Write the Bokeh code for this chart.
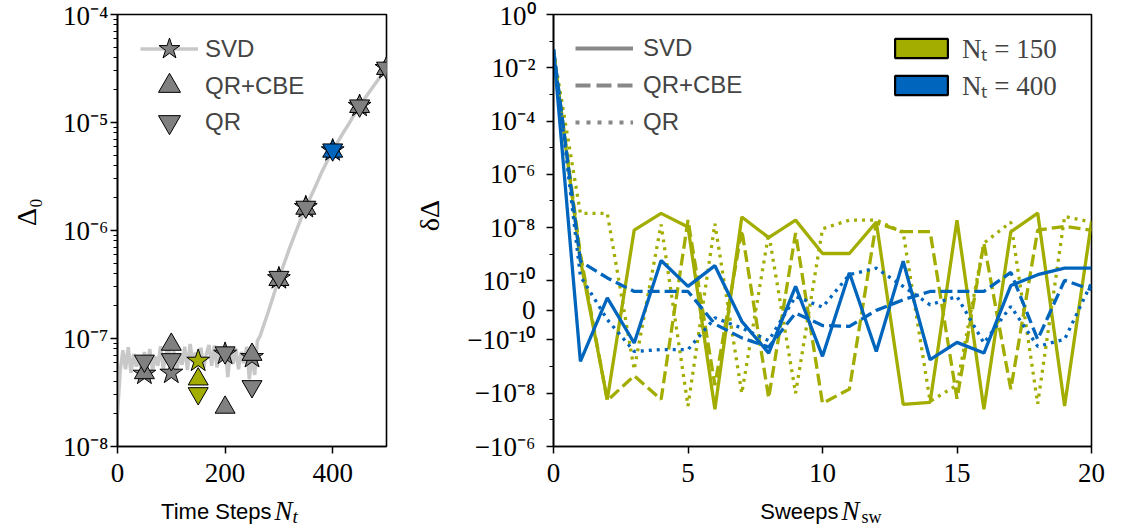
import numpy as np
from bokeh.plotting import figure
from bokeh.layouts import row, column
from bokeh.models import (FixedTicker, CustomJSTickFormatter, Legend, LegendItem,
                          Label, Range1d)
from bokeh.embed import file_html
from bokeh.resources import INLINE

# ---------------- data: left panel (Delta_0 vs time steps) ----------------
line_steps = list(range(0, 270, 5)) + list(range(270, 510, 10))
line_delta0 = [
    2.0e-8, 5.0e-8, 7.8e-8, 5.2e-8, 8.3e-8, 4.8e-8, 7.2e-8, 5.5e-8, 6.6e-8, 4.9e-8,
    7.5e-8, 5.3e-8, 8.0e-8, 5.0e-8, 6.8e-8, 5.6e-8, 8.5e-8, 5.2e-8, 7.0e-8, 8.8e-8,
    5.4e-8, 7.6e-8, 4.9e-8, 7.3e-8, 5.7e-8, 8.4e-8, 5.1e-8, 8.9e-8, 6.0e-8, 7.4e-8,
    5.5e-8, 8.2e-8, 5.3e-8, 7.1e-8, 8.7e-8, 5.6e-8, 8.6e-8, 5.4e-8, 7.7e-8, 6.2e-8,
    8.8e-8, 4.4e-8, 7.9e-8, 5.8e-8, 8.1e-8, 5.2e-8, 7.5e-8, 5.9e-8, 8.4e-8, 4.2e-8,
    7.0e-8, 4.6e-8, 9.5e-8, 1.05e-7,
    1.25e-7, 1.75e-7, 2.5e-7, 3.6e-7, 5.0e-7, 6.9e-7, 9.3e-7, 1.25e-6, 1.64e-6, 2.1e-6,
    2.7e-6, 3.5e-6, 4.4e-6, 5.5e-6, 6.7e-6, 8.1e-6, 9.7e-6, 1.18e-5, 1.42e-5, 1.68e-5,
    1.98e-5, 2.32e-5, 2.72e-5, 3.18e-5]
marker_steps = [50, 100, 150, 200, 250, 300, 350, 400, 450, 500]
svd_delta0 = [4.7e-8, 4.8e-8, 6.2e-8, 7.2e-8, 6.7e-8, 3.6e-7, 1.64e-6, 5.5e-6, 1.42e-5, 3.18e-5]
qrcbe_delta0 = [4.8e-8, 8.8e-8, 4.2e-8, 2.3e-8, 7.1e-8, 3.5e-7, 1.6e-6, 5.4e-6, 1.4e-5, 3.15e-5]
qr_delta0 = [6.2e-8, 6.4e-8, 3.1e-8, 7.4e-8, 3.6e-8, 3.7e-7, 1.65e-6, 5.6e-6, 1.43e-5, 3.2e-5]

# ---------------- data: right panel (delta Delta vs sweeps) ----------------
sweeps = list(range(21))
svd_150 = [4e-2, 6e-10, -1.7e-8, 8e-9, 3.4e-8, 1.05e-8, -4e-8, 2.5e-8, 4.2e-9, 1.9e-8, 1.06e-9,
           1.06e-9, 1.6e-8, -2.6e-8, -2.2e-8, 1.9e-8, -4e-8, 6.9e-9, 3.5e-8, -3e-8, 1.6e-8]
cbe_150 = [4e-2, 1e-9, -1.9e-8, -2.2e-9, -1.7e-8, 1.9e-8, -5e-9, 8e-9, -1.5e-8, 6.2e-9, -2.4e-8,
           -7e-9, 1.5e-8, 7e-9, 7e-9, -1.6e-8, 2.6e-9, -7e-9, 8e-9, 1.1e-8, 8e-9]
qr_150 = [4e-2, 3.4e-8, 3.4e-8, -1.3e-9, 1.3e-8, -3e-8, 1.4e-8, -1e-8, 6e-9, -1e-8, 9e-9,
          1.9e-8, 1.9e-8, 6.5e-9, -2e-8, -5e-9, 2.6e-9, 1.6e-8, -2.5e-8, 2.6e-8, 1.6e-8]
svd_400 = [5e-2, -6.4e-10, 4.2e-11, -1.3e-10, 5.8e-10, 8.1e-11, 3.7e-10, -3.7e-11, -3.1e-10, 8.1e-11,
           -4.1e-10, 2.0e-10, -2.7e-10, 5.4e-10, -5.5e-10, -1.23e-10, -3.1e-10, 8.4e-11, 1.7e-10,
           3.0e-10, 3.0e-10]
cbe_400 = [5e-2, 5.4e-10, 1.28e-10, 6.4e-11, 6.4e-11, 6.4e-11, -4.6e-11, -9.3e-11, -1.85e-10, -8.8e-12,
           -5.1e-11, -5.4e-11, 0.0, 3.6e-11, 6.4e-11, 6.4e-11, 6.4e-11, 2.07e-10, -9.8e-11, 1.04e-10,
           7e-11]
qr_400 = [5e-2, 1.5e-10, -3.1e-11, -2.7e-10, -2.3e-10, -2.3e-10, -2.5e-11, -6e-11, -1.05e-10, 4.7e-11,
          1.1e-11, 1.7e-10, 3.0e-10, 8.1e-11, 1.9e-11, 4.7e-11, -1.3e-10, 1.35e-11, -1.74e-10,
          -9.8e-11, 9.3e-11]

# ---------------- styles ----------------
OLIVE = "#a2ad00"
BLUE = "#0065bd"
GRAY = "#808080"
LIGHT = "#c8c8c8"
LEGRAY = "#888888"
SERIF = "Liberation Serif"
SANS = "Liberation Sans"

LINTHRESH = 1e-10
L = 1.0 / 0.9  # half width of the linear region, in decades


def symlog(vals):
    v = np.asarray(vals, dtype=float)
    a = np.abs(v)
    return np.where(a <= LINTHRESH, v / LINTHRESH * L,
                    np.sign(v) * (L + np.log10(np.maximum(a, 1e-300) / LINTHRESH)))


SUP = ('const sup = {"-": "\u207b", "0": "\u2070", "1": "\u00b9", "2": "\u00b2", "3": "\u00b3", '
       '"4": "\u2074", "5": "\u2075", "6": "\u2076", "7": "\u2077", "8": "\u2078", "9": "\u2079"};\n'
       'function sp(e) { let s = ""; for (const c of String(e)) s += sup[c]; return s; }\n')


def style(p):
    p.grid.visible = False
    p.outline_line_color = "black"
    p.outline_line_width = 1.6
    p.outline_line_alpha = 1.0
    p.background_fill_color = "white"
    p.border_fill_color = "white"
    for ax in p.axis:
        ax.axis_line_color = "black"
        ax.axis_line_width = 1.6
        ax.major_tick_line_color = "black"
        ax.minor_tick_line_color = "black"
        ax.major_tick_line_width = 1.5
        ax.minor_tick_line_width = 1.2
        ax.major_tick_out = 7
        ax.major_tick_in = 0
        ax.minor_tick_out = 4
        ax.minor_tick_in = 0
        ax.major_label_text_font = SERIF
        ax.major_label_text_font_size = "27px"
        ax.major_label_text_color = "black"
    for ax in p.xaxis:
        ax.major_label_standoff = 10


def text(p, x, y, s, font, size, fstyle="normal", angle=0.0, align="left"):
    p.add_layout(Label(x=x, y=y, text=s, text_font=font, text_font_size=size,
                       text_font_style=fstyle, angle=angle, text_align=align,
                       text_baseline="middle", text_color="black"))


def blank(x0, x1, y0, y1):
    """Empty strip (no axes) whose data coordinates are page pixels."""
    f = figure(width=x1 - x0, height=y1 - y0, x_range=Range1d(x0, x1), y_range=Range1d(y1, y0),
               x_axis_location=None, y_axis_location=None, output_backend="svg",
               toolbar_location=None, min_border=0)
    f.grid.visible = False
    f.outline_line_color = None
    f.background_fill_color = "white"
    f.border_fill_color = "white"
    return f


def one_item_legend(label, renderers, loc, **kw):
    return Legend(items=[LegendItem(label=label, renderers=renderers, index=0)], location=loc,
                  padding=0, margin=0, background_fill_alpha=0, border_line_alpha=0, **kw)


TOP, FH, BOT = 14, 432, 48
MAIN_H = TOP + FH + BOT

# ---------------- left panel ----------------
LW = 269
p1 = figure(frame_width=LW, frame_height=FH, x_range=Range1d(0, 500), y_range=Range1d(1e-8, 1e-4),
            y_axis_type="log", output_backend="svg", toolbar_location=None,
            min_border_left=73, min_border_right=10, min_border_top=TOP, min_border_bottom=BOT)
style(p1)
p1.xaxis.ticker = FixedTicker(ticks=[0, 200, 400], minor_ticks=[])
p1.yaxis.ticker = FixedTicker(ticks=[1e-8, 1e-7, 1e-6, 1e-5, 1e-4],
                              minor_ticks=[m * 10.0 ** e for e in range(-8, -4) for m in range(2, 10)])
p1.yaxis.formatter = CustomJSTickFormatter(code=SUP + 'return "10" + sp(Math.round(Math.log10(tick)));')
p1.yaxis.major_label_standoff = 2

mcolors = [OLIVE if n == 150 else BLUE if n == 400 else GRAY for n in marker_steps]
r_line = p1.line(line_steps, line_delta0, line_color=LIGHT, line_width=3.5)
r_star = p1.scatter(marker_steps, svd_delta0, marker="star", size=24, fill_color=mcolors,
                    line_color="black", line_width=1)
r_up = p1.scatter(marker_steps, qrcbe_delta0, marker="triangle", size=20, fill_color=mcolors,
                  line_color="black", line_width=1)
r_dn = p1.scatter(marker_steps, qr_delta0, marker="inverted_triangle", size=20, fill_color=mcolors,
                  line_color="black", line_width=1)

leg_kw = dict(glyph_width=58, glyph_height=55, label_height=30, label_standoff=7,
              label_text_font=SANS, label_text_font_size="24px")
for lab, rends, yb in [("SVD", [r_line, r_star], 370), ("QR+CBE", [r_up], 333),
                       ("QR", [r_dn], 297)]:
    p1.add_layout(one_item_legend(lab, rends, (23, yb), **leg_kw), "center")

# ---------------- right panel ----------------
RW = 538
ylo, yhi = -(L + 4), L + 10
p2 = figure(frame_width=RW, frame_height=FH, x_range=Range1d(0, 20), y_range=Range1d(ylo, yhi),
            output_backend="svg", toolbar_location=None,
            min_border_left=107, min_border_right=20, min_border_top=TOP, min_border_bottom=BOT)
style(p2)
p2.xaxis.ticker = FixedTicker(ticks=[0, 5, 10, 15, 20], minor_ticks=[])
major_vals = [1e0, 1e-2, 1e-4, 1e-6, 1e-8, 1e-10, 0.0, -1e-10, -1e-8, -1e-6]
minor_vals = [1e-1, 1e-3, 1e-5, 1e-7, 1e-9, -1e-9, -1e-7]
p2.yaxis.ticker = FixedTicker(ticks=list(symlog(major_vals)), minor_ticks=list(symlog(minor_vals)))
p2.yaxis.formatter = CustomJSTickFormatter(args=dict(L=L), code=SUP + """
if (Math.abs(tick) < 1e-6) return "0";
const e = Math.round(Math.abs(tick) - L) - 10;
return (tick < 0 ? "\u2212" : "") + "10" + sp(e);
""")
p2.yaxis.major_label_standoff = 11

for vals, dash in [(svd_150, "solid"), (cbe_150, "12 5"), (qr_150, "3 5")]:
    p2.line(sweeps, symlog(vals), line_color=OLIVE, line_width=3.3, line_dash=dash)
for vals, dash in [(svd_400, "solid"), (cbe_400, "12 5"), (qr_400, "3 5")]:
    p2.line(sweeps, symlog(vals), line_color=BLUE, line_width=3.3, line_dash=dash)

# legend-only renderers (a single NaN point draws nothing in the plot)
nan = [float("nan")]
d1 = p2.line(nan, nan, line_color=LEGRAY, line_width=4, line_dash="solid")
d2 = p2.line(nan, nan, line_color=LEGRAY, line_width=4, line_dash="15 6")
d3 = p2.line(nan, nan, line_color=LEGRAY, line_width=4, line_dash="4 7")
leg2 = Legend(items=[LegendItem(label="SVD", renderers=[d1], index=0),
                     LegendItem(label="QR+CBE", renderers=[d2], index=0),
                     LegendItem(label="QR", renderers=[d3], index=0)],
              location=(22, 309), glyph_width=58, glyph_height=30, label_height=30, spacing=7,
              padding=0, margin=0, label_standoff=10, label_text_font=SANS,
              label_text_font_size="24px", background_fill_alpha=0, border_line_alpha=0)
p2.add_layout(leg2, "center")

q1 = p2.quad(left=nan, right=nan, top=nan, bottom=nan, fill_color=OLIVE, line_color="black",
             line_width=2.2)
q2 = p2.quad(left=nan, right=nan, top=nan, bottom=nan, fill_color=BLUE, line_color="black",
             line_width=2.2)
leg3 = Legend(items=[LegendItem(label="N\u209c = 150", renderers=[q1], index=0),
                     LegendItem(label="N\u209c = 400", renderers=[q2], index=0)],
              location=(335, 343), glyph_width=66, glyph_height=24, label_height=24, spacing=0,
              padding=0, margin=0, label_standoff=8, label_text_font=SERIF,
              label_text_font_size="27px", background_fill_alpha=0, border_line_alpha=0)
p2.add_layout(leg3, "center")

# ---------------- axis titles (strips around the panels) ----------------
X_P1 = 44
X_GAP = X_P1 + 73 + LW + 10            # left edge of the strip between the panels
X_P2 = X_GAP + 50
TOTAL_W = X_P2 + 107 + RW + 20

ylab1 = blank(0, X_P1, 0, MAIN_H)
text(ylab1, 26, 226, "\u0394\u2080", SERIF, "28px", angle=np.pi / 2, align="center")
ylab2 = blank(X_GAP, X_P2, 0, MAIN_H)
text(ylab2, 429, 230, "\u03b4\u0394", SERIF, "28px", angle=np.pi / 2, align="center")

xlab = blank(0, TOTAL_W, MAIN_H, 532)
text(xlab, 271, 511, "Time Steps", SANS, "22px", align="right")
text(xlab, 274, 510, "N", SERIF, "27px", fstyle="italic")
text(xlab, 292, 516, "t", SERIF, "19px", fstyle="italic")
text(xlab, 838, 511, "Sweeps", SANS, "22px", align="right")
text(xlab, 841, 510, "N", SERIF, "27px", fstyle="italic")
text(xlab, 861, 516, "sw", SERIF, "18px")

layout = column(row(ylab1, p1, ylab2, p2), xlab)
open("out.html", "w").write(file_html(layout, INLINE))
